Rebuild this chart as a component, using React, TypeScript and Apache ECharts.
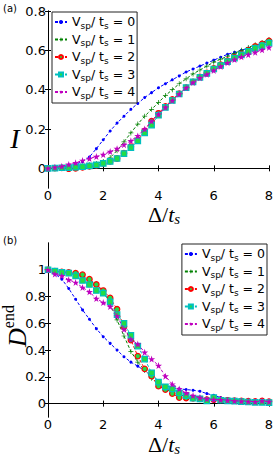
import React, { useEffect, useRef } from "react";
import * as echarts from "echarts";

const DELTA = [0, 0.25, 0.5, 0.75, 1, 1.25, 1.5, 1.75, 2, 2.25, 2.5, 2.75, 3, 3.25, 3.5, 3.75, 4, 4.25, 4.5, 4.75, 5, 5.25, 5.5, 5.75, 6, 6.25, 6.5, 6.75, 7, 7.25, 7.5, 7.75, 8];

const V_LABELS = ["0", "1", "2", "3", "4"];

const I_V0 = [0, 0.003, 0.006, 0.012, 0.02, 0.035, 0.058, 0.1, 0.145, 0.19, 0.23, 0.265, 0.3, 0.33, 0.36, 0.385, 0.41, 0.43, 0.45, 0.47, 0.49, 0.505, 0.52, 0.535, 0.55, 0.565, 0.58, 0.59, 0.6, 0.612, 0.622, 0.635, 0.648];
const I_V1 = [0, 0.002, 0.004, 0.006, 0.01, 0.013, 0.018, 0.025, 0.035, 0.055, 0.09, 0.135, 0.18, 0.225, 0.265, 0.3, 0.335, 0.37, 0.4, 0.43, 0.455, 0.48, 0.5, 0.52, 0.54, 0.555, 0.57, 0.585, 0.6, 0.615, 0.628, 0.64, 0.655];
const I_V2 = [0, 0.001, 0.002, -0.002, 0, 0.005, 0.01, 0.015, 0.025, 0.035, 0.05, 0.077, 0.11, 0.145, 0.19, 0.24, 0.28, 0.315, 0.35, 0.38, 0.41, 0.44, 0.465, 0.485, 0.508, 0.527, 0.547, 0.565, 0.582, 0.6, 0.62, 0.633, 0.648];
const I_V3 = [0, 0.001, 0.003, 0.004, 0.006, 0.008, 0.012, 0.018, 0.025, 0.035, 0.05, 0.075, 0.105, 0.14, 0.18, 0.22, 0.27, 0.31, 0.345, 0.378, 0.41, 0.44, 0.463, 0.483, 0.505, 0.523, 0.543, 0.56, 0.577, 0.595, 0.61, 0.623, 0.637];
const I_V4 = [0, 0.005, 0.01, 0.02, 0.028, 0.04, 0.05, 0.06, 0.07, 0.085, 0.1, 0.12, 0.14, 0.165, 0.2, 0.24, 0.275, 0.31, 0.345, 0.378, 0.41, 0.437, 0.46, 0.478, 0.498, 0.518, 0.537, 0.553, 0.567, 0.578, 0.59, 0.603, 0.615];

const D_V0 = [1, 0.97, 0.93, 0.86, 0.78, 0.7, 0.63, 0.56, 0.5, 0.45, 0.4, 0.35, 0.31, 0.28, 0.245, 0.21, 0.17, 0.135, 0.117, 0.11, 0.105, 0.1, 0.092, 0.075, 0.062, 0.045, 0.036, 0.03, 0.025, 0.02, 0.015, 0.012, 0.01];
const D_V1 = [1, 0.99, 0.985, 0.975, 0.965, 0.945, 0.92, 0.885, 0.84, 0.745, 0.625, 0.505, 0.39, 0.31, 0.25, 0.19, 0.14, 0.11, 0.085, 0.065, 0.055, 0.045, 0.04, 0.035, 0.03, 0.028, 0.025, 0.022, 0.02, 0.018, 0.015, 0.012, 0.01];
const D_V2 = [1, 0.99, 0.985, 0.98, 0.975, 0.963, 0.93, 0.89, 0.845, 0.79, 0.705, 0.575, 0.475, 0.355, 0.26, 0.205, 0.13, 0.105, 0.075, 0.045, 0.042, 0.04, 0.035, 0.03, 0.03, 0.028, 0.025, 0.022, 0.02, 0.018, 0.016, 0.02, 0.015];
const D_V3 = [1, 0.99, 0.98, 0.975, 0.955, 0.92, 0.89, 0.845, 0.825, 0.76, 0.665, 0.6, 0.51, 0.43, 0.333, 0.23, 0.16, 0.125, 0.11, 0.08, 0.06, 0.04, 0.035, 0.02, 0.045, 0.025, 0.02, 0.018, 0.015, 0.012, 0.01, 0.01, 0.008];
const D_V4 = [1, 0.968, 0.955, 0.925, 0.905, 0.868, 0.835, 0.785, 0.755, 0.725, 0.655, 0.555, 0.48, 0.445, 0.383, 0.333, 0.284, 0.205, 0.145, 0.11, 0.08, 0.06, 0.045, 0.035, 0.03, 0.028, 0.025, 0.02, 0.018, 0.016, 0.014, 0.02, 0.015];

const X_TICKS = [0, 2, 4, 6, 8];
const I_TICKS = [0, 0.2, 0.4, 0.6, 0.8];
const D_TICKS = [0, 0.2, 0.4, 0.6, 0.8, 1];

const PLUS = "path://M4.3,0H5.7V4.3H10V5.7H5.7V10H4.3V5.7H0V4.3H4.3Z";
const STAR = "path://M50,0L61,35L98,35L68,57L79,91L50,70L21,91L32,57L2,35L39,35Z";

const STYLES = [
  { color: "#0000ff", symbol: "circle", size: 3, fill: "#0000ff", border: "#0000ff", bw: 0 },
  { color: "#008000", symbol: PLUS, size: 5, fill: "#008000", border: "#008000", bw: 0 },
  { color: "#ff0000", symbol: "circle", size: 5.5, fill: "#22dd44", border: "#ff0000", bw: 1.2 },
  { color: "#00bfbf", symbol: "rect", size: 5.5, fill: "#22dd44", border: "#00bfbf", bw: 1.2 },
  { color: "#bf00bf", symbol: STAR, size: 7, fill: "#bf00bf", border: "#bf00bf", bw: 0 },
];

const FONT = "DejaVu Sans";

function seriesName(v: string) {
  return "Vsp/ts = " + v;
}

export default function App() {
  const ref = useRef<HTMLDivElement>(null);
  useEffect(() => {
    if (!ref.current) return;
    const chart = echarts.init(ref.current, undefined, { renderer: "svg" });

    const GRID_LEFT = 48;
    const GRID_W = 221;
    const grids = [
      { left: GRID_LEFT, top: 11, width: GRID_W, height: 177 },
      { left: GRID_LEFT, top: 243, width: GRID_W, height: 174 },
    ];

    const axisLine = { show: true, lineStyle: { color: "#000", width: 1 } };
    const tickStyle = (vals: number[]) => ({
      show: true,
      inside: true,
      length: 3,
      lineStyle: { color: "#000", width: 1 },
      customValues: vals,
    });
    const labelFmt = (v: number) => String(Math.round(v * 10) / 10);

    const xAxes: any[] = [];
    const yAxes: any[] = [];
    [0, 1].forEach((g) => {
      xAxes.push({
        type: "value", gridIndex: g, position: "bottom", min: 0, max: 8, interval: 2,
        axisLine, axisTick: tickStyle(X_TICKS), splitLine: { show: false },
        axisLabel: { show: true, margin: 1, color: "#000", fontFamily: FONT, fontSize: 13, formatter: labelFmt, customValues: X_TICKS },
      });
      xAxes.push({
        type: "value", gridIndex: g, position: "top", min: 0, max: 8, interval: 2,
        axisLine, axisTick: tickStyle(X_TICKS), splitLine: { show: false },
        axisLabel: { show: false },
      });
      const yt = g === 0 ? I_TICKS : D_TICKS;
      const ymax = g === 0 ? 0.8 : 1.2;
      yAxes.push({
        type: "value", gridIndex: g, position: "left", min: -0.1, max: ymax, interval: 0.1,
        axisLine, axisTick: tickStyle(yt), splitLine: { show: false },
        axisLabel: {
          show: true, margin: 2, color: "#000", fontFamily: FONT, fontSize: 13, customValues: yt,
          formatter: (v: number) => {
            const r = Math.round(v * 10);
            if (r < 0 || r % 2 !== 0 || v > yt[yt.length - 1] + 1e-6) return "";
            return labelFmt(v);
          },
        },
      });
      yAxes.push({
        type: "value", gridIndex: g, position: "right", min: -0.1, max: ymax, interval: 0.1,
        axisLine, axisTick: tickStyle(yt), splitLine: { show: false },
        axisLabel: { show: false },
      });
    });

    const topData = [I_V0, I_V1, I_V2, I_V3, I_V4];
    const botData = [D_V0, D_V1, D_V2, D_V3, D_V4];
    const series: any[] = [];
    [topData, botData].forEach((set, g) => {
      set.forEach((vals, k) => {
        const s = STYLES[k];
        series.push({
          type: "line",
          name: seriesName(V_LABELS[k]),
          xAxisIndex: g * 2,
          yAxisIndex: g * 2,
          data: DELTA.map((d, i) => [d, vals[i]]),
          symbol: s.symbol,
          symbolSize: s.size,
          showAllSymbol: true,
          lineStyle: { color: s.color, width: 1, type: [3, 2] },
          itemStyle: { color: s.fill, borderColor: s.border, borderWidth: s.bw },
          z: 2 + k,
        });
      });
    });

    const legendRich = {
      m: { fontFamily: FONT, fontSize: 12.5, lineHeight: 14, verticalAlign: "top", color: "#000" },
      s: { fontFamily: FONT, fontSize: 9, lineHeight: 10, verticalAlign: "top", padding: [6, 0, 0, 0], color: "#000" },
    };
    const legendFmt = (name: string) => {
      const v = name.split("= ")[1];
      return "{m|V}{s|sp}{m|/ t}{s|s}{m| = " + v + "}";
    };
    const legendBase = {
      orient: "vertical",
      itemWidth: 12,
      itemHeight: 5,
      itemGap: 2.5,
      padding: [3, 2, 3, 2],
      borderColor: "#222",
      borderWidth: 1,
      backgroundColor: "#fff",
      formatter: legendFmt,
      textStyle: { rich: legendRich, fontFamily: FONT, fontSize: 12.5 },
      data: V_LABELS.map((v) => seriesName(v)),
      selectedMode: false,
    };

    const serif = "Liberation Serif";
    const xTitleRich = {
      a: { fontFamily: serif, fontSize: 22, lineHeight: 20, verticalAlign: "top", color: "#000" },
      t: { fontFamily: serif, fontStyle: "italic", fontSize: 22, lineHeight: 20, verticalAlign: "top", color: "#000" },
      s: { fontFamily: serif, fontStyle: "italic", fontSize: 15, lineHeight: 14, verticalAlign: "top", padding: [8, 0, 0, 0], color: "#000" },
    };
    const option: any = {
      animation: false,
      backgroundColor: "#fff",
      grid: grids,
      xAxis: xAxes,
      yAxis: yAxes,
      legend: [
        { ...legendBase, left: 52, top: 12 },
        { ...legendBase, right: 10, top: 244 },
      ],
      series,
      graphic: [
        { type: "text", x: 3, y: 3, style: { text: "(a)", font: "10px DejaVu Sans", fill: "#000" } },
        { type: "text", x: 3, y: 235, style: { text: "(b)", font: "10px DejaVu Sans", fill: "#000" } },
        {
          type: "text", x: 15, y: 138,
          style: { text: "I", font: "italic 28px " + serif, fill: "#000", align: "center", verticalAlign: "middle" },
        },
        {
          type: "text", x: 164, y: 213,
          style: { text: "{a|Δ/}{t|t}{s|s}", align: "center", verticalAlign: "middle", rich: xTitleRich },
        },
        {
          type: "text", x: 164, y: 443,
          style: { text: "{a|Δ/}{t|t}{s|s}", align: "center", verticalAlign: "middle", rich: xTitleRich },
        },
        {
          type: "text", x: 15, y: 326, rotation: Math.PI / 2,
          style: {
            text: "{d|D}{e|end}", align: "center", verticalAlign: "middle",
            rich: {
              d: { fontFamily: serif, fontStyle: "italic", fontSize: 26, lineHeight: 30, verticalAlign: "bottom", color: "#000" },
              e: { fontFamily: serif, fontSize: 16, lineHeight: 16, verticalAlign: "top", color: "#000" },
            },
          },
        },
      ],
    };
    chart.setOption(option);
    return () => chart.dispose();
  }, []);

  return (
    <div
      ref={ref}
      style={{ position: "fixed", left: 0, top: 0, width: 277, height: 458, background: "#fff" }}
    />
  );
}
